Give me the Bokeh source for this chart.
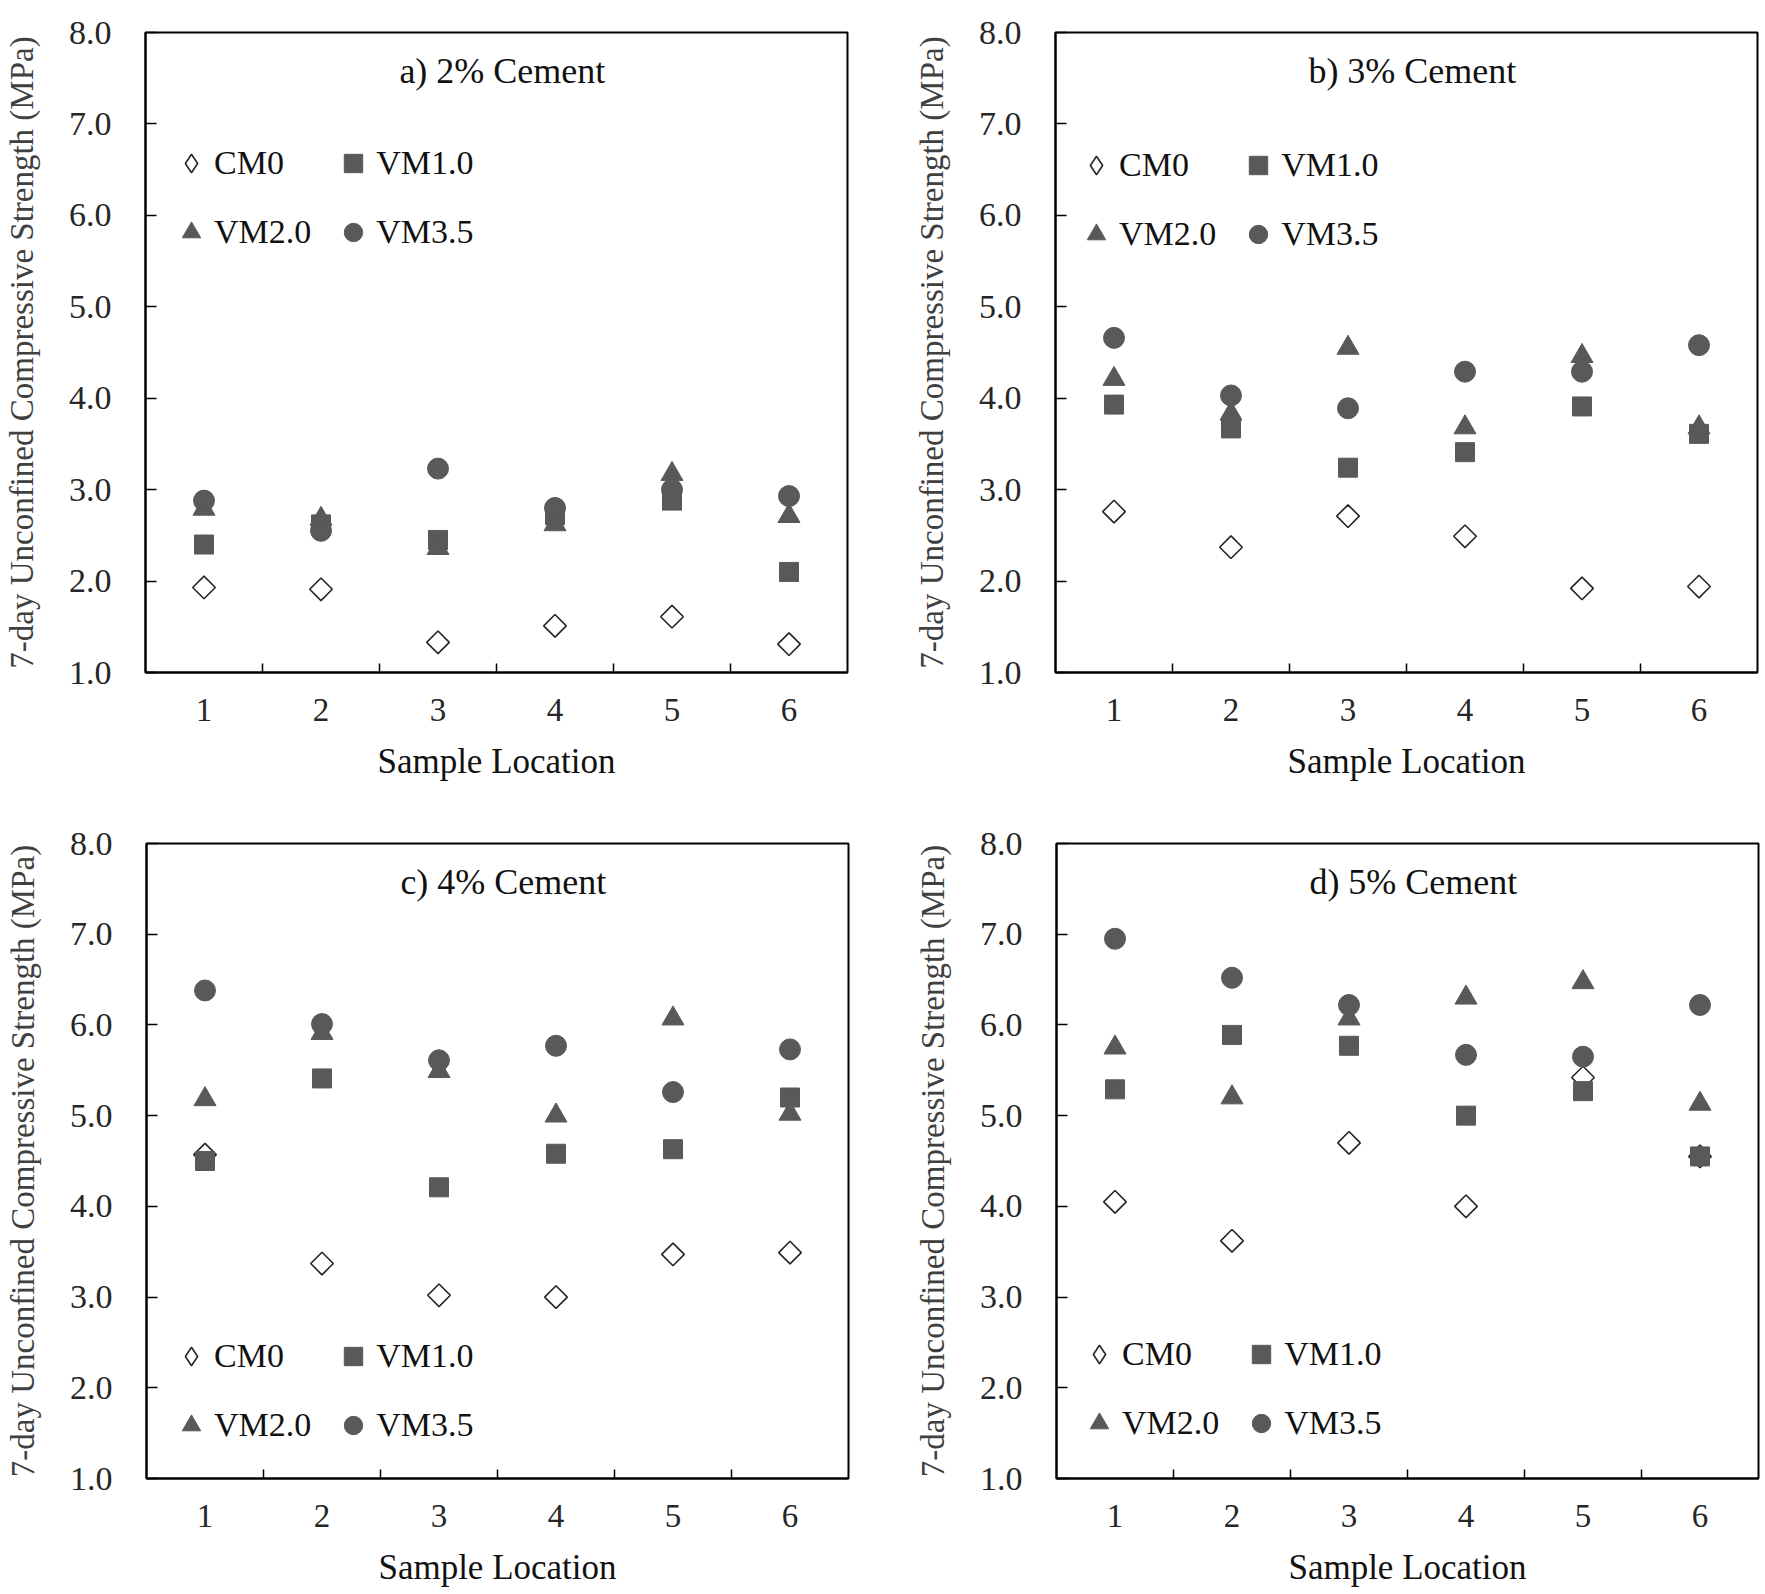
import math
from bokeh.plotting import figure
from bokeh.models import Range1d, FixedTicker, Legend, LegendItem, Label
from bokeh.layouts import column, row
from bokeh.embed import file_html
from bokeh.resources import INLINE

# ---------------- data ----------------
locations = [1, 2, 3, 4, 5, 6]
x_tick_labels = ["1", "2", "3", "4", "5", "6"]
x_boundaries = [1.5, 2.5, 3.5, 4.5, 5.5]
y_ticks = [1, 2, 3, 4, 5, 6, 7, 8]
y_tick_labels = ["1.0", "2.0", "3.0", "4.0", "5.0", "6.0", "7.0", "8.0"]
series_names = ["CM0", "VM1.0", "VM2.0", "VM3.5"]
panel_titles = ["a) 2% Cement", "b) 3% Cement", "c) 4% Cement", "d) 5% Cement"]
x_title = "Sample Location"
y_title = "7-day Unconfined Compressive Strength (MPa)"

# a) 2% cement
cm0_2 = [1.93, 1.91, 1.33, 1.51, 1.61, 1.31]
vm10_2 = [2.40, 2.62, 2.45, 2.72, 2.88, 2.10]
vm20_2 = [2.79, 2.68, 2.36, 2.62, 3.17, 2.71]
vm35_2 = [2.88, 2.55, 3.23, 2.80, 3.00, 2.93]

# b) 3% cement
cm0_3 = [2.76, 2.37, 2.71, 2.49, 1.92, 1.94]
vm10_3 = [3.93, 3.67, 3.24, 3.41, 3.91, 3.61]
vm20_3 = [4.21, 3.83, 4.55, 3.68, 4.46, 3.68]
vm35_3 = [4.66, 4.03, 3.89, 4.29, 4.29, 4.58]

# c) 4% cement
cm0_4 = [4.57, 3.37, 3.02, 3.00, 3.47, 3.49]
vm10_4 = [4.50, 5.41, 4.21, 4.58, 4.63, 5.20]
vm20_4 = [5.18, 5.91, 5.49, 5.00, 6.07, 5.02]
vm35_4 = [6.38, 6.01, 5.61, 5.77, 5.26, 5.73]

# d) 5% cement
cm0_5 = [4.05, 3.62, 4.70, 4.00, 5.42, 4.55]
vm10_5 = [5.29, 5.89, 5.77, 5.00, 5.27, 4.55]
vm20_5 = [5.75, 5.20, 6.07, 6.30, 6.47, 5.13]
vm35_5 = [6.95, 6.52, 6.22, 5.67, 5.65, 6.22]

# ---------------- styling ----------------
FONT = "Liberation Serif"
GRAY = "#595959"
TEXT = "#111111"
OUTLINE = "#262626"


def make_panel(title, cm0, vm10, vm20, vm35, bl, br, bt, bb, fh, legend_loc):
    p = figure(frame_width=702, frame_height=fh,
               x_range=Range1d(0.5, 6.5), y_range=Range1d(1, 8),
               output_backend="svg", toolbar_location=None,
               min_border_left=bl, min_border_right=br,
               min_border_top=bt, min_border_bottom=bb)
    p.grid.visible = False
    p.outline_line_color = "black"
    p.outline_line_width = 2
    p.background_fill_color = "white"

    # x axis
    xa = p.xaxis[0]
    xa.ticker = FixedTicker(ticks=locations, minor_ticks=x_boundaries)
    xa.major_label_overrides = {loc: lab for loc, lab in zip(locations, x_tick_labels)}
    xa.major_tick_in = 0
    xa.major_tick_out = 0
    xa.minor_tick_in = 9
    xa.minor_tick_out = 0
    xa.minor_tick_line_color = "black"
    xa.minor_tick_line_width = 1.5
    xa.axis_line_color = "black"
    xa.axis_line_width = 2
    xa.major_label_standoff = 26
    xa.major_label_text_font = FONT
    xa.major_label_text_font_size = "33px"
    xa.major_label_text_color = "#262626"
    xa.axis_label = x_title
    xa.axis_label_standoff = 18
    xa.axis_label_text_font = FONT
    xa.axis_label_text_font_size = "35px"
    xa.axis_label_text_font_style = "normal"
    xa.axis_label_text_color = TEXT

    # y axis
    ya = p.yaxis[0]
    ya.ticker = FixedTicker(ticks=y_ticks, minor_ticks=[])
    ya.major_label_overrides = {t: lab for t, lab in zip(y_ticks, y_tick_labels)}
    ya.major_tick_in = 11
    ya.major_tick_out = 0
    ya.major_tick_line_color = "black"
    ya.major_tick_line_width = 1.5
    ya.axis_line_color = "black"
    ya.axis_line_width = 2
    ya.major_label_standoff = 34
    ya.major_label_text_font = FONT
    ya.major_label_text_font_size = "34px"
    ya.major_label_text_color = "#262626"
    ya.axis_label = y_title
    ya.axis_label_standoff = 26
    ya.axis_label_text_font = FONT
    ya.axis_label_text_font_size = "33px"
    ya.axis_label_text_font_style = "normal"
    ya.axis_label_text_color = "#404040"

    # CM0: open diamond. The "diamond" renderer provides the legend key
    # (legend keys ignore marker angle) and sits hidden under the rotated squares.
    r0_key = p.scatter(x=locations, y=cm0, marker="diamond", size=18,
                       fill_color="white", line_color=OUTLINE, line_width=1.6)
    p.scatter(x=locations, y=cm0, marker="square", angle=math.pi / 4,
              size=16, fill_color="white", line_color=OUTLINE, line_width=1.6)
    r1 = p.scatter(x=locations, y=vm10, marker="square", size=19,
                   fill_color=GRAY, line_color=GRAY)
    r2 = p.scatter(x=locations, y=vm20, marker="triangle", size=22,
                   fill_color=GRAY, line_color=GRAY)
    r3 = p.scatter(x=locations, y=vm35, marker="circle", size=21,
                   fill_color=GRAY, line_color=GRAY)

    legend = Legend(
        items=[LegendItem(label=n, renderers=[r]) for n, r in zip(series_names, [r0_key, r1, r2, r3])],
        orientation="horizontal", ncols=2,
        location=legend_loc,
        glyph_width=46, glyph_height=50,
        label_standoff=0, label_width=90, spacing=19,
        padding=0, margin=0,
        border_line_alpha=0, background_fill_alpha=0,
        label_text_font=FONT, label_text_font_size="34px",
        label_text_color=TEXT,
    )
    p.add_layout(legend)

    p.add_layout(Label(x=3.55, y=7.58, text=title, text_align="center",
                       text_baseline="middle", text_font=FONT,
                       text_font_size="36px", text_color=TEXT))
    return p


pa = make_panel(panel_titles[0], cm0_2, vm10_2, vm20_2, vm35_2, 144, 42, 32, 136, 640, (23, 415))
pb = make_panel(panel_titles[1], cm0_3, vm10_3, vm20_3, vm35_3, 166, 4, 32, 136, 640, (18, 413))
pc = make_panel(panel_titles[2], cm0_4, vm10_4, vm20_4, vm35_4, 146, 42, 35, 100, 635, (22, 28))
pd = make_panel(panel_titles[3], cm0_5, vm10_5, vm20_5, vm35_5, 166, 4, 35, 100, 635, (20, 30))

layout = column(row(pa, pb), row(pc, pd))

with open("out.html", "w") as f:
    f.write(file_html(layout, INLINE))
